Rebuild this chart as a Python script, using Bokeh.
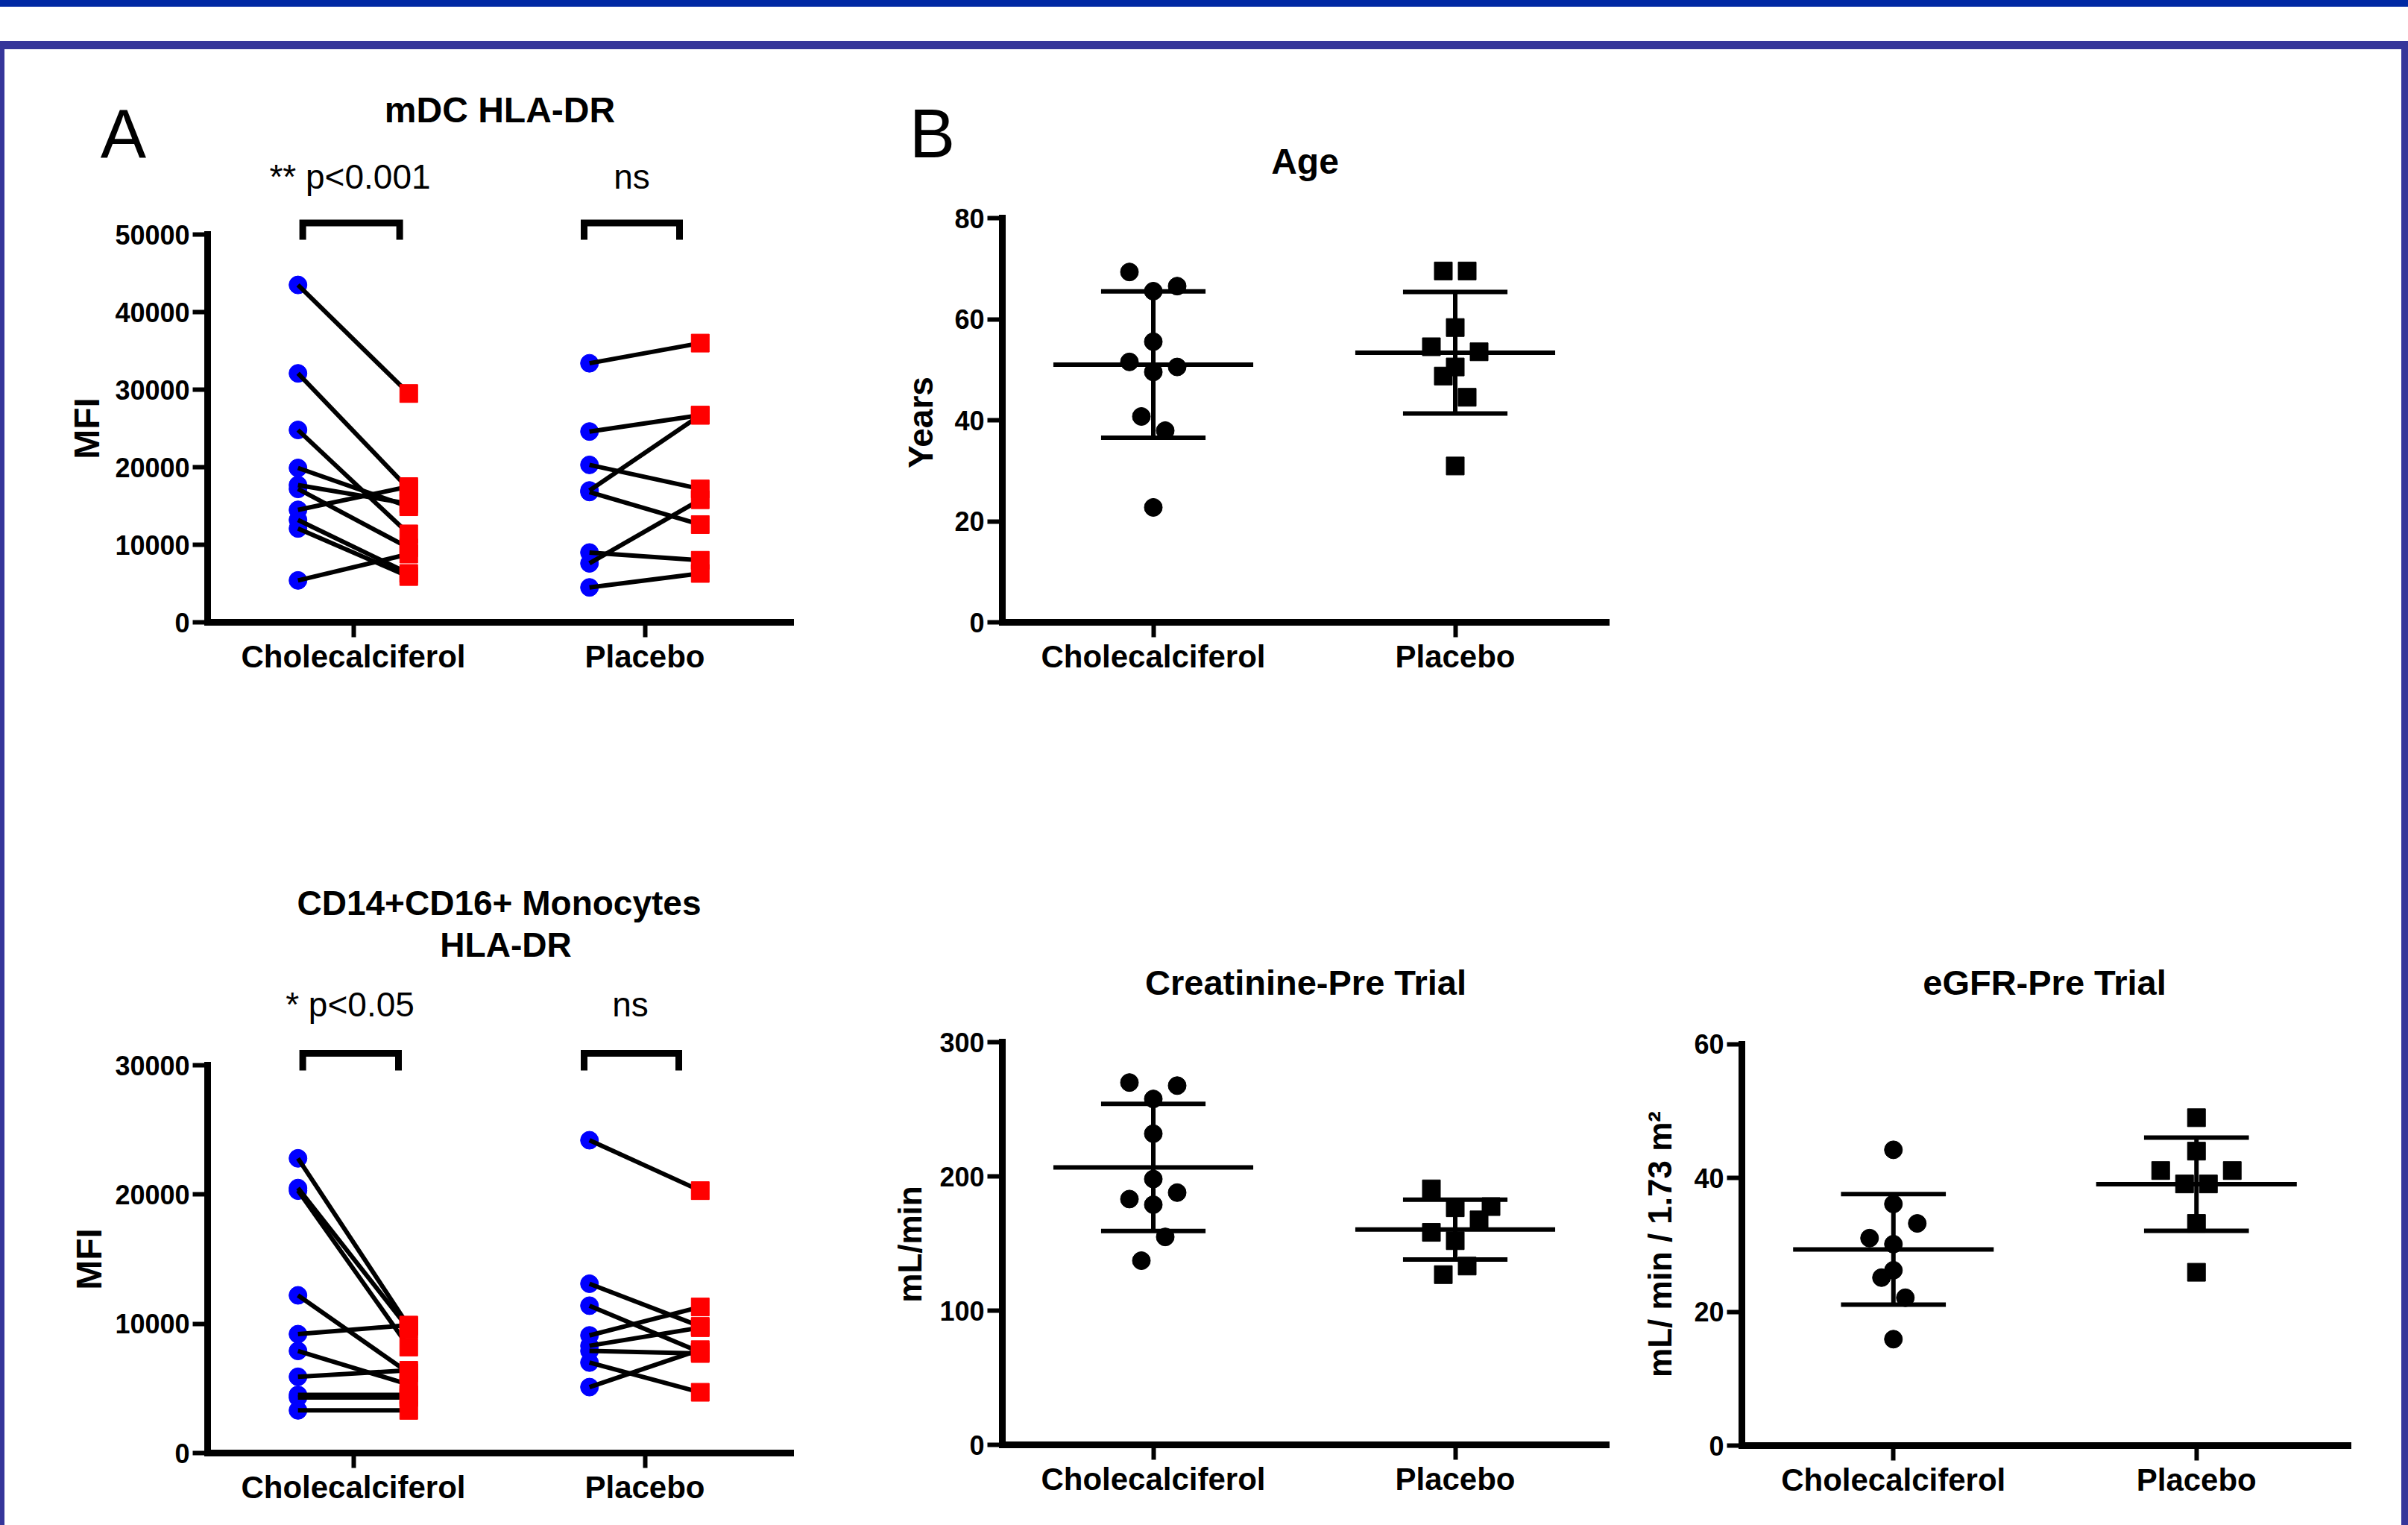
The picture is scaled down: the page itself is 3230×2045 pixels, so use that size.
import numpy as np
from bokeh.plotting import figure
from bokeh.layouts import row, column
from bokeh.models import (ColumnDataSource, Range1d, FixedTicker, Spacer,
                          NumeralTickFormatter, GlobalInlineStyleSheet)
from bokeh.embed import file_html
from bokeh.resources import INLINE
from bokeh.core.properties import value

# ---------------------------------------------------------------- data
categories = ["Cholecalciferol", "Placebo"]

# A (top): mDC HLA-DR, MFI, paired pre -> post
mdc_chol_pre = [43500, 32100, 24800, 19900, 17700, 17200, 14500, 13200, 12100, 5400]
mdc_chol_post = [29500, 17200, 11400, 14900, 15300, 9600, 17500, 6300, 5900, 8800]
mdc_plac_pre = [33400, 24600, 20300, 17000, 16800, 9000, 7600, 4500]
mdc_plac_post = [36000, 26700, 17200, 26700, 12600, 8000, 15800, 6300]
mdc_yticks = [0, 10000, 20000, 30000, 40000, 50000]

# A (bottom): CD14+CD16+ monocytes HLA-DR, MFI
mono_chol_pre = [22800, 20500, 20300, 12200, 9200, 7900, 5900, 4500, 4300, 3300]
mono_chol_post = [9800, 9600, 8200, 6200, 9900, 5300, 6400, 4500, 4300, 3300]
mono_plac_pre = [24200, 13100, 11400, 9100, 8300, 7900, 7000, 5100]
mono_plac_post = [20300, 9800, 7800, 11300, 9700, 7700, 4700, 8000]
mono_yticks = [0, 10000, 20000, 30000]

# B: Age (years)
age_chol = [69.4, 66.6, 65.6, 55.6, 51.6, 50.6, 49.6, 40.8, 38.0, 22.8]
age_plac = [69.6, 69.6, 58.4, 54.6, 53.6, 50.6, 48.8, 44.6, 31.0]
age_yticks = [0, 20, 40, 60, 80]

# B: Creatinine-Pre Trial (mL/min)
cre_chol = [269.9, 267.6, 257.7, 231.8, 198.0, 187.9, 183.1, 178.9, 154.9, 137.2]
cre_plac = [190.7, 176.6, 177.5, 167.6, 158.3, 152.1, 133.2, 126.8]
cre_yticks = [0, 100, 200, 300]

# B: eGFR-Pre Trial (mL/min/1.73 m2)
egfr_chol = [44.2, 36.1, 33.2, 31.0, 30.1, 26.2, 25.1, 22.1, 15.9]
egfr_plac = [49.0, 44.0, 41.1, 41.1, 39.1, 39.1, 33.2, 25.9]
egfr_yticks = [0, 20, 40, 60]

# ------------------------------------------------- layout / style (not data)
# horizontal scatter spread (in marker half-widths), as drawn in the original
age_chol_spread = [-2, 2, 0, 0, -2, 2, 0, -1, 1, 0]
age_plac_spread = [-1, 1, 0, -2, 2, 0, -1, 1, 0]
cre_chol_spread = [-2, 2, 0, 0, 0, 2, -2, 0, 1, -1]
cre_plac_spread = [-2, 0, 3, 2, -2, 0, 1, -1]
egfr_chol_spread = [0, 0, 2, -2, 0, 0, -1, 1, 0]
egfr_plac_spread = [0, 0, -3, 3, -1, 1, 0, 0]

FONT = "Liberation Sans"
BAR_BLUE = "#0029A3"
FRAME_PURPLE = "#36369A"
PAGE_W, PAGE_H = 3230, 2045


class Panel:
    """One chart; its plot area is the whole canvas, the axes sit at fixed places."""

    def __init__(self, ox, oy, w, h, axis_left, axis_right, axis_bottom, y_tick_max, axis_px,
                 yticks):
        self.ppu = axis_px / y_tick_max
        self.fl = axis_left
        self.fb = axis_bottom
        self.ppc = (axis_right - axis_left) / 2.0
        p = figure(width=w, height=h,
                   x_range=Range1d(self.dx(ox), self.dx(ox + w)),
                   y_range=Range1d(self.dy(oy + h), self.dy(oy)),
                   output_backend="svg", toolbar_location=None, title_location=None,
                   min_border=0)
        p.outline_line_color = None
        p.grid.visible = False
        p.background_fill_color = "white"
        p.border_fill_color = "white"
        xa, ya = p.xaxis[0], p.yaxis[0]
        xa.fixed_location = 0
        ya.fixed_location = 0.5
        xa.bounds = (0.5, 2.5)
        ya.bounds = (0, y_tick_max)
        xa.ticker = FixedTicker(ticks=[1, 2])
        xa.major_label_overrides = {1: categories[0], 2: categories[1]}
        ya.ticker = FixedTicker(ticks=yticks)
        ya.formatter = NumeralTickFormatter(format="0")
        for ax in (xa, ya):
            ax.axis_line_width = 9
            ax.axis_line_color = "black"
            ax.axis_line_cap = "square"
            ax.major_tick_line_width = 6
            ax.major_tick_line_color = "black"
            ax.major_tick_out = 20
            ax.major_tick_in = 0
            ax.minor_tick_line_color = None
            ax.major_label_text_font = FONT
            ax.major_label_text_font_style = "bold"
            ax.major_label_text_color = "black"
        xa.major_label_text_font_size = "42px"
        xa.major_label_standoff = 2
        ya.major_label_text_font_size = "36px"
        ya.major_label_standoff = 4
        self.p = p

    def dx(self, px):
        return 0.5 + (px - self.fl) / self.ppc

    def dy(self, py):
        return (self.fb - py) / self.ppu

    def text(self, px, py, txt, size, bold=True, angle=0.0):
        # (px, py): visual centre of the text on the page
        self.p.text(x=[self.dx(px)], y=[self.dy(py)], text=[txt], text_font=value(FONT),
                    text_font_size=size, text_font_style="bold" if bold else "normal",
                    text_color="black", text_align="center", text_baseline="alphabetic",
                    angle=angle)

    def ylabel(self, px, py, txt, size):
        self.text(px, py, txt, size, bold=True, angle=np.pi / 2)

    def bracket(self, x0, x1, ytop, ybot):
        self.p.line(x=[self.dx(x0), self.dx(x0), self.dx(x1), self.dx(x1)],
                    y=[self.dy(ybot), self.dy(ytop), self.dy(ytop), self.dy(ybot)],
                    line_color="black", line_width=9, line_join="miter")

    def paired(self, groups):
        off = 0.19
        for cx, pre, post in groups:
            n = len(pre)
            src = ColumnDataSource(dict(x0=[cx - off] * n, x1=[cx + off] * n, pre=pre, post=post))
            self.p.scatter("x0", "pre", source=src, marker="circle", size=24,
                           fill_color="#0000FF", line_color="#0000FF")
            self.p.segment("x0", "pre", "x1", "post", source=src, line_color="black", line_width=6)
            self.p.scatter("x1", "post", source=src, marker="square", size=24,
                           fill_color="#FF0000", line_color="#FF0000")

    def mean_sd(self, groups):
        step = 16.0 / self.ppc
        for cx, vals, spread, marker in groups:
            v = np.asarray(vals, dtype=float)
            m, s = v.mean(), v.std(ddof=1)
            xs = [cx + k * step for k in spread]
            self.p.scatter(xs, list(v), marker=marker, size=24, fill_color="black", line_color="black")
            self.p.segment(x0=[cx - 0.331, cx - 0.173, cx - 0.173, cx],
                           y0=[m, m + s, m - s, m - s],
                           x1=[cx + 0.331, cx + 0.173, cx + 0.173, cx],
                           y1=[m, m + s, m - s, m + s],
                           line_color="black", line_width=6)


# ---------------------------------------------------------------- panel A top
A1 = Panel(6, 66, 1134, 1044, 278, 1060, 834, 50000, 520, mdc_yticks)
A1.paired([(1, mdc_chol_pre, mdc_chol_post), (2, mdc_plac_pre, mdc_plac_post)])
A1.text(165, 179, "A", "92px", bold=False)
A1.text(670, 147, "mDC HLA-DR", "48px")
A1.text(469, 236, "** p<0.001", "46px", bold=False)
A1.text(847, 236, "ns", "46px", bold=False)
A1.bracket(405.6, 535.6, 298.5, 321)
A1.bracket(783, 911, 298.5, 321)
A1.ylabel(116, 574, "MFI", "48px")

# ---------------------------------------------------------------- panel A bottom
A2 = Panel(6, 1110, 1134, 935, 278, 1060, 1948, 30000, 520, mono_yticks)
A2.paired([(1, mono_chol_pre, mono_chol_post), (2, mono_plac_pre, mono_plac_post)])
A2.text(669, 1210, "CD14+CD16+ Monocytes", "46px")
A2.text(678, 1266, "HLA-DR", "46px")
A2.text(469, 1346, "* p<0.05", "46px", bold=False)
A2.text(845, 1346, "ns", "46px", bold=False)
A2.bracket(405.6, 534, 1412, 1435)
A2.bracket(783, 910, 1412, 1435)
A2.ylabel(119, 1688, "MFI", "48px")

# ---------------------------------------------------------------- panel B
BA = Panel(1140, 66, 1050, 1044, 1344, 2154, 834.4, 80, 542, age_yticks)
BA.mean_sd([(1, age_chol, age_chol_spread, "circle"), (2, age_plac, age_plac_spread, "square")])
BA.text(1250, 178, "B", "92px", bold=False)
BA.text(1750, 216, "Age", "48px")
BA.ylabel(1234, 566, "Years", "46px")

BC = Panel(1140, 1110, 1050, 935, 1344, 2154, 1937, 300, 540, cre_yticks)
BC.mean_sd([(1, cre_chol, cre_chol_spread, "circle"), (2, cre_plac, cre_plac_spread, "square")])
BC.text(1751, 1317, "Creatinine-Pre Trial", "47px")
BC.ylabel(1220, 1668, "mL/min", "44px")

BE = Panel(2190, 1110, 1031, 935, 2336, 3149, 1938, 60, 538.4, egfr_yticks)
BE.mean_sd([(1, egfr_chol, egfr_chol_spread, "circle"), (2, egfr_plac, egfr_plac_spread, "square")])
BE.text(2742, 1317, "eGFR-Pre Trial", "47px")
BE.ylabel(2226, 1668, "mL/ min / 1.73 m\u00b2", "44px")


# ---------------------------------------------------------------- page frame
def bar(w, h, color):
    return Spacer(width=w, height=h, styles={"background-color": color})


header = column(bar(PAGE_W, 9, BAR_BLUE), bar(PAGE_W, 46, "white"), bar(PAGE_W, 11, FRAME_PURPLE),
                spacing=0)
colA = column(A1.p, A2.p, spacing=0)
colB = column(row(BA.p, bar(1031, 1044, "white"), spacing=0), row(BC.p, BE.p, spacing=0), spacing=0)
body = row(bar(6, 1979, FRAME_PURPLE), colA, colB, bar(9, 1979, FRAME_PURPLE), spacing=0)
root = column(header, body, spacing=0)
root.stylesheets = [GlobalInlineStyleSheet(css="html, body { margin: 0; padding: 0; overflow: hidden; }")]

open("out.html", "w").write(file_html(root, INLINE))
